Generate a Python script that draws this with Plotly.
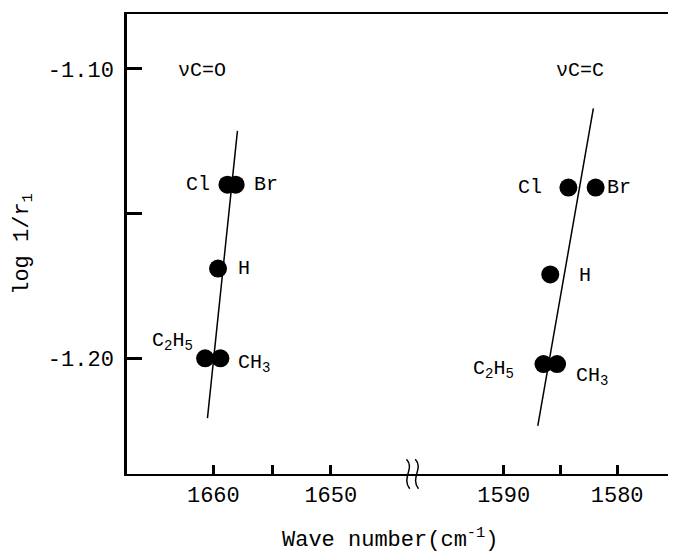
import plotly.graph_objects as go

# ---- data ----
substituents = ["Cl", "Br", "H", "C2H5", "CH3"]
sub_labels = ["Cl", "Br", "H", "C<sub>2</sub>H<sub>5</sub>", "CH<sub>3</sub>"]
log_inv_r1 = [-1.140, -1.140, -1.169, -1.200, -1.200]
log_inv_r1_cc = [-1.141, -1.141, -1.171, -1.202, -1.202]
nu_co = [1658.8, 1658.1, 1659.6, 1660.7, 1659.4]
nu_cc = [1584.3, 1581.9, 1585.9, 1586.5, 1585.3]
fit_co_x = [1657.95, 1660.5]
fit_co_y = [-1.1214, -1.2207]
fit_cc_x = [1582.1, 1587.0]
fit_cc_y = [-1.1136, -1.2234]

x1_ticks = [1660, 1655, 1650]
x1_text = ["1660", "", "1650"]
x2_ticks = [1590, 1585, 1580]
x2_text = ["1590", "", "1580"]
y_ticks = [-1.10, -1.15, -1.20]
y_text = ["-1.10", "", "-1.20"]

FONT = "Liberation Mono"
BREAK = 0.522

fig = go.Figure()
fig.add_trace(go.Scatter(x=fit_co_x, y=fit_co_y, mode="lines",
                         line=dict(color="black", width=1.5), xaxis="x", yaxis="y",
                         showlegend=False))
fig.add_trace(go.Scatter(x=nu_co, y=log_inv_r1, mode="markers",
                         marker=dict(color="black", size=18), xaxis="x", yaxis="y",
                         showlegend=False))
fig.add_trace(go.Scatter(x=fit_cc_x, y=fit_cc_y, mode="lines",
                         line=dict(color="black", width=1.5), xaxis="x2", yaxis="y",
                         showlegend=False))
fig.add_trace(go.Scatter(x=nu_cc, y=log_inv_r1_cc, mode="markers",
                         marker=dict(color="black", size=18), xaxis="x2", yaxis="y",
                         showlegend=False))

# point labels: (xanchor, xshift, yshift) per substituent, per panel
label_pos_co = [("right", -15, 0), ("left", 16, 0), ("left", 18, 0),
                ("right", -10, 17), ("left", 16, -5)]
label_pos_cc = [("right", -24, 0), ("left", 9, 0), ("left", 27, -1),
                ("right", -27, -5), ("left", 17, -12)]
annotations = []
for lab, xv, yv, (xa, xs, ys) in zip(sub_labels, nu_co, log_inv_r1, label_pos_co):
    annotations.append(dict(x=xv, y=yv, xref="x", yref="y", text=lab, showarrow=False,
                            xanchor=xa, yanchor="middle", xshift=xs, yshift=ys,
                            font=dict(family=FONT, size=20, color="black")))
for lab, xv, yv, (xa, xs, ys) in zip(sub_labels, nu_cc, log_inv_r1_cc, label_pos_cc):
    annotations.append(dict(x=xv, y=yv, xref="x2", yref="y", text=lab, showarrow=False,
                            xanchor=xa, yanchor="middle", xshift=xs, yshift=ys,
                            font=dict(family=FONT, size=20, color="black")))

annotations.append(dict(x=1661.0, y=-1.100, xref="x", yref="y", text="νC=O", showarrow=False,
                        font=dict(family=FONT, size=20, color="black"), yshift=-2))
annotations.append(dict(x=1583.3, y=-1.100, xref="x2", yref="y", text="νC=C", showarrow=False,
                        font=dict(family=FONT, size=20, color="black"), yshift=-2))
annotations.append(dict(x=0.48, y=-0.14, xref="paper", yref="paper", showarrow=False,
                        text="Wave number(cm<sup>-1</sup>)", yanchor="middle",
                        font=dict(family=FONT, size=22, color="black")))

axis_common = dict(showline=True, linecolor="black", linewidth=2, ticks="inside",
                   ticklen=9, tickwidth=3, tickcolor="black", showgrid=False,
                   zeroline=False, mirror=True,
                   tickfont=dict(family=FONT, size=22, color="black"))

# break mark on the x axis (two wavy strokes), in paper coordinates
def wave(xc):
    return (f"M {xc - 0.004},0.032 C {xc + 0.012},0.012 {xc - 0.014},-0.008 "
            f"{xc + 0.002},-0.032")

shapes = [
    dict(type="line", xref="paper", yref="paper", x0=1, x1=1, y0=0, y1=1,
         line=dict(color="black", width=1)),
    dict(type="path", xref="paper", yref="paper", path=wave(BREAK - 0.008),
         line=dict(color="black", width=1.5)),
    dict(type="path", xref="paper", yref="paper", path=wave(BREAK + 0.008),
         line=dict(color="black", width=1.5)),
]

# page has an 8px body margin: the figure is sized to fit inside the window
fig.update_layout(
    width=668, height=546,
    margin=dict(l=119, r=1, t=6, b=80),
    paper_bgcolor="white", plot_bgcolor="white",
    xaxis=dict(domain=[0, BREAK], range=[1667.35, 1643.0], tickmode="array",
               tickvals=x1_ticks, ticktext=x1_text, anchor="y", **axis_common),
    xaxis2=dict(domain=[BREAK, 1], range=[1598.0, 1574.9], tickmode="array",
                tickvals=x2_ticks, ticktext=x2_text, anchor="y", **axis_common),
    yaxis=dict(range=[-1.240, -1.081], tickmode="array", tickvals=y_ticks, ticktext=y_text,
               showline=True, linecolor="black", linewidth=2.5, ticks="inside",
               ticklen=15, tickwidth=3, tickcolor="black", showgrid=False, zeroline=False,
               ticklabelstandoff=6,
               tickfont=dict(family=FONT, size=22, color="black"),
               title=dict(text="log 1/r<sub>1</sub>", standoff=14,
                          font=dict(family=FONT, size=22, color="black"))),
    annotations=annotations,
    shapes=shapes,
)

fig.write_html("out.html", config={"displayModeBar": False})
